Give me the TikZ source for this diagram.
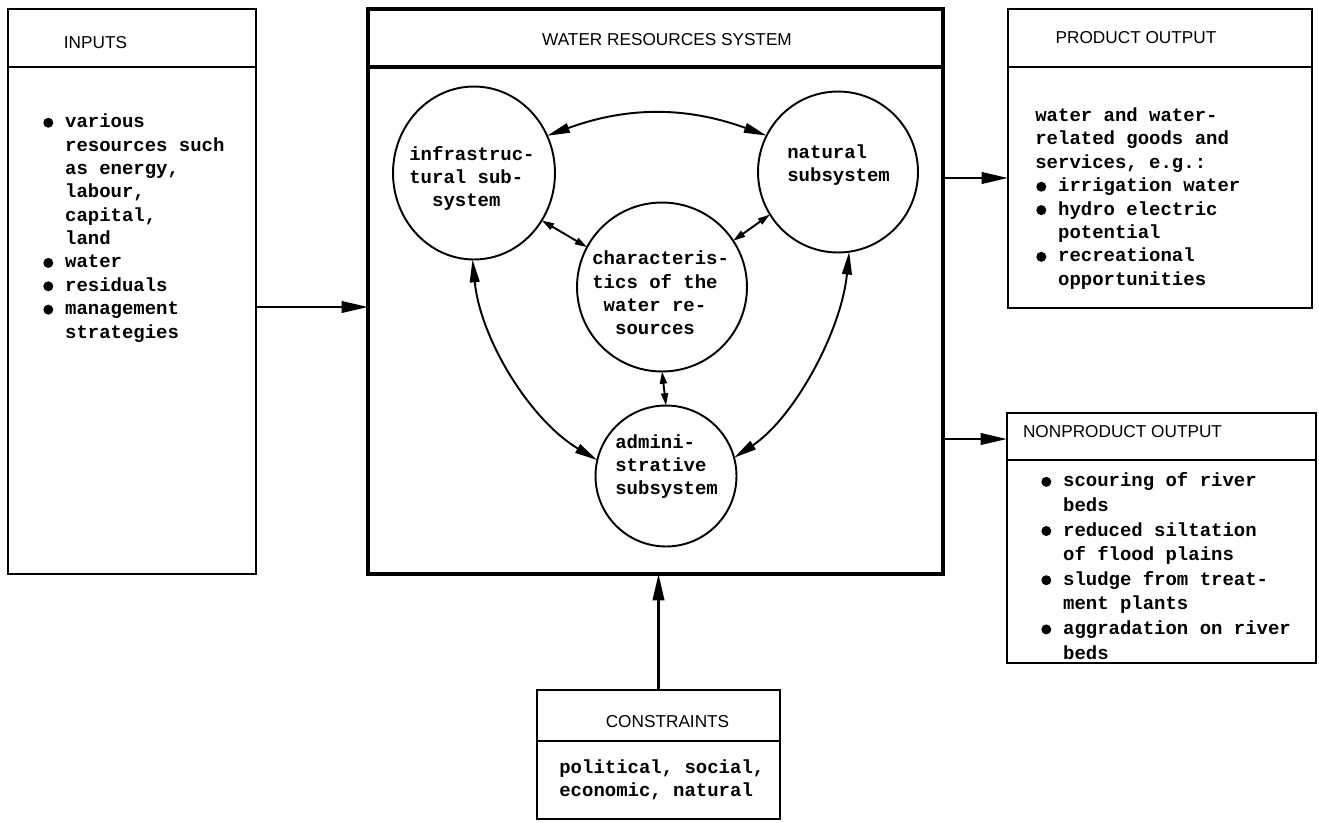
\documentclass[tikz,border=0pt]{standalone}
\usepackage{fontspec}
\usetikzlibrary{arrows.meta,shapes.geometric}
\newfontfamily\twfont{Liberation Mono}
\newfontfamily\hdfont{Liberation Sans}
% filled bullet occupying two typewriter cells
\newcommand\bul{\makebox[1.2em][l]{\hspace{0.05em}\tikz\fill (0.1cm,0.1cm) circle (0.1cm);}}
\newcommand\ind{\hspace*{1.2em}}
\newcommand\halfind{\hspace*{0.6em}}
\tikzset{
  panel/.style={draw, rectangle, line width=1.5pt, inner sep=0pt, outer sep=0pt},
  sysbox/.style={panel, line width=2.3pt},
  sub/.style={draw, ellipse, line width=1.1pt, inner sep=0pt, outer sep=0pt},
  hd/.style={font=\hdfont\fontsize{9.8}{11}\selectfont, inner sep=0pt},
  body/.style={font=\twfont\bfseries\fontsize{10.8}{13.3}\selectfont, align=left, inner sep=0pt, anchor=west},
  flow/.style={line width=1.4pt, -{Triangle[length=15pt,width=6.5pt]}},
  link/.style={line width=1.1pt, {Triangle[length=13pt,width=5.5pt]}-{Triangle[length=13pt,width=5.5pt]}},
  shortlink/.style={line width=1.1pt, {Triangle[length=7pt,width=4pt]}-{Triangle[length=7pt,width=4pt]}},
}
\begin{document}
\begin{tikzpicture}[x=0.02cm, y=-0.02cm]
\useasboundingbox (0,0) rectangle (1319,822);
\fill[white] (0,0) rectangle (1319,822);

% boxes
\node[panel, minimum width=4.96cm, minimum height=11.3cm] (inputs) at (132,291.5) {};
\node[sysbox, minimum width=11.5cm, minimum height=11.3cm] (main) at (655.5,291.5) {};
\node[panel, minimum width=6.08cm, minimum height=5.98cm] (product) at (1160,158.5) {};
\node[panel, minimum width=6.18cm, minimum height=5.0cm] (nonproduct) at (1161.5,538) {};
\node[panel, minimum width=4.86cm, minimum height=2.58cm] (constraints) at (658.5,754.5) {};

% header separators
\draw[line width=1.5pt] (inputs.west |- 0,67) -- (inputs.east |- 0,67);
\draw[line width=2.3pt] (main.west |- 0,67) -- (main.east |- 0,67);
\draw[line width=1.5pt] (product.west |- 0,67) -- (product.east |- 0,67);
\draw[line width=1.5pt] (nonproduct.west |- 0,460) -- (nonproduct.east |- 0,460);
\draw[line width=1.5pt] (constraints.west |- 0,741) -- (constraints.east |- 0,741);

% headers
\node[hd] (inputs-t) at (95.5,43) {INPUTS};
\node[hd] (main-t) at (667,40) {WATER RESOURCES SYSTEM};
\node[hd] (product-t) at (1136,38) {PRODUCT OUTPUT};
\node[hd] (nonproduct-t) at (1122.5,432) {NONPRODUCT OUTPUT};
\node[hd] (constraints-t) at (667.5,722) {CONSTRAINTS};

% box contents
\node[body] (inputs-b) at (42,228) {\bul various\\\ind resources such\\\ind as energy,\\\ind labour,\\\ind capital,\\\ind land\\\bul water\\\bul residuals\\\bul management\\\ind strategies};
\node[body] (product-b) at (1035,198.5) {water and water-\\related goods and\\services, e.g.:\\\bul irrigation water\\\bul hydro electric\\\ind potential\\\bul recreational\\\ind opportunities};
\node[body, font=\twfont\bfseries\fontsize{10.8}{14}\selectfont] (nonproduct-b) at (1040,566) {\bul scouring of river\\\ind beds\\\bul reduced siltation\\\ind of flood plains\\\bul sludge from treat-\\\ind ment plants\\\bul aggradation on river\\\ind beds};
\node[body] (constraints-b) at (559,780) {political, social,\\economic, natural};

% subsystems
\node[sub, minimum width=3.24cm, minimum height=3.46cm] (infra) at (474,173) {};
\node[sub, minimum width=3.2cm, minimum height=3.22cm] (natural) at (838,172) {};
\node[sub, minimum width=3.4cm, minimum height=3.38cm] (charac) at (662,287) {};
\node[sub, minimum width=2.82cm, minimum height=2.82cm] (admin) at (666,476) {};

\node[body] (infra-t) at (409,178.5) {infrastruc-\\tural sub-\\\ind system};
\node[body] (natural-t) at (787,165) {natural\\subsystem};
\node[body] (charac-t) at (592,293) {characteris-\\tics of the\\\halfind water re-\\\ind sources};
\node[body] (admin-t) at (615,466.5) {admini-\\strative\\subsystem};

% interactions between subsystems
\draw[link] (infra.27) to[bend left=20] (natural.153);
\draw[shortlink] (infra.-35) -- (charac.152);
\draw[shortlink] (natural.212) -- (charac.33);
\draw[shortlink] (charac.-90) -- (admin.90);
\draw[link] (infra.-91) .. controls +(8,80) and +(-67,-40) .. (admin.167);
\draw[link] (natural.-82) .. controls +(-8,80) and +(60,-40) .. (admin.15);

% flows between boxes
\draw[flow] (inputs.east |- 0,307) -- (main.west |- 0,307);
\draw[flow] (main.east |- 0,178) -- (product.west |- 0,178);
\draw[flow] (main.east |- 0,439) -- (nonproduct.west |- 0,439);
\draw[flow] (constraints.north) -- (constraints.north |- main.south);
\end{tikzpicture}
\end{document}
